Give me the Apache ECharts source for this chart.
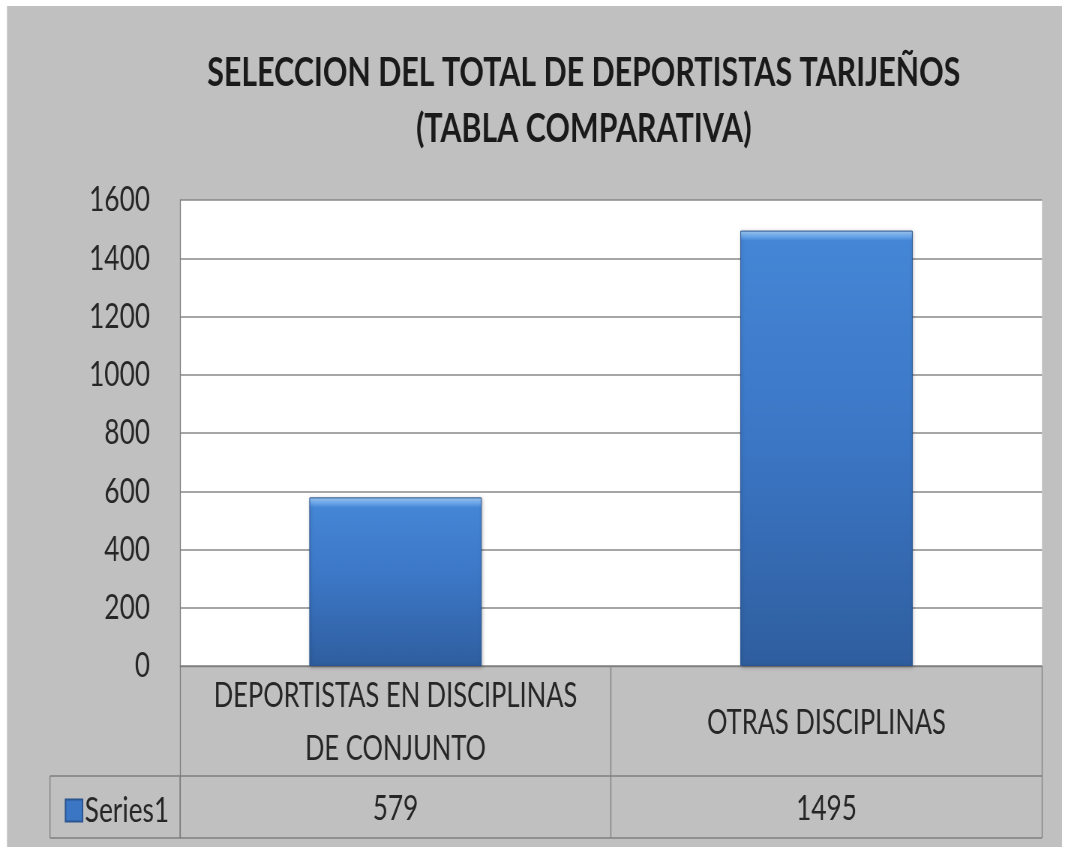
<!DOCTYPE html>
<html>
<head>
<meta charset="utf-8">
<script src="https://cdn.jsdelivr.net/npm/echarts@6/dist/echarts.min.js"></script>
<style>
  html, body { margin: 0; padding: 0; background: #ffffff; overflow: hidden; }
  /* the chart is laid out wide and squeezed horizontally to get narrow lettering */
  #chart { width: 1427px; height: 854px; transform: scaleX(0.75); transform-origin: 0 0; }
</style>
</head>
<body>
<div id="chart"></div>
<script>
// Chart data
const titleText = 'SELECCION DEL TOTAL DE DEPORTISTAS TARIJEÑOS\n(TABLA COMPARATIVA)';
const categories = ['DEPORTISTAS EN DISCIPLINAS\nDE CONJUNTO', 'OTRAS DISCIPLINAS'];
const seriesName = 'Series1';
const values = [579, 1495];
const yTicks = [0, 200, 400, 600, 800, 1000, 1200, 1400, 1600];

const FONT = 'Lato, "Open Sans", "Liberation Sans", sans-serif';
const TEXT = '#262626';
const LINE = '#7f7f7f';

// Layout in the (unsqueezed) chart coordinate space
const SX = 0.75;
const px = (x) => x / SX;
const W = 1427, H = 854;
const G = { left: px(180), right: W - px(1042), top: 200, bottom: H - 666 };
const plotBottom = H - G.bottom;
const plotRight = W - G.right;
const plotHeight = plotBottom - G.top;
const rowLine = 776;
const tableBottom = 838;
const tableLeft = px(50);
const yMax = yTicks[yTicks.length - 1];

// vertical gradient with a light bevel band of fixed pixel depth at the top of each bar
function barFill(v) {
  const h = Math.max(1, v / yMax * plotHeight);
  const band = Math.min(0.5, 10 / h);
  return new echarts.graphic.LinearGradient(0, 0, 0, 1, [
    { offset: 0, color: '#a4d0f7' },
    { offset: band * 0.5, color: '#72aced' },
    { offset: band, color: '#4586d6' },
    { offset: 0.5, color: '#3b76c4' },
    { offset: 1, color: '#2f5e9f' }
  ]);
}

const chart = echarts.init(document.getElementById('chart'), null, { renderer: 'canvas', width: W, height: H });

const option = {
  backgroundColor: '#ffffff',
  animation: false,
  title: {
    text: titleText,
    left: px(580),
    top: 40,
    textAlign: 'center',
    textStyle: {
      fontFamily: FONT,
      fontWeight: 'bold',
      fontSize: 40.5,
      lineHeight: 56,
      color: '#1a1a1a'
    }
  },
  legend: {
    data: [seriesName],
    left: px(61),
    top: 788,
    icon: 'rect',
    itemWidth: px(17),
    itemHeight: 22,
    itemGap: 6,
    textStyle: { fontFamily: FONT, fontSize: 35, color: TEXT, padding: [0, 0, 0, -2] }
  },
  grid: {
    left: G.left, right: G.right, top: G.top, bottom: G.bottom,
    show: true,
    backgroundColor: '#ffffff',
    borderWidth: 0
  },
  xAxis: [
    {
      type: 'category',
      data: categories,
      position: 'bottom',
      axisLine: { show: true, lineStyle: { color: LINE, width: 1.3 } },
      axisTick: {
        show: true,
        length: tableBottom - plotBottom,
        lineStyle: { color: LINE, width: 1.3 }
      },
      axisLabel: {
        interval: 0,
        margin: 57,
        verticalAlign: 'middle',
        align: 'center',
        fontFamily: FONT,
        fontSize: 34,
        lineHeight: 53,
        color: TEXT
      }
    },
    {
      type: 'category',
      data: values.map(String),
      position: 'bottom',
      offset: rowLine - plotBottom,
      axisLine: { show: false },
      axisTick: { show: false },
      axisLabel: {
        interval: 0,
        margin: 33,
        verticalAlign: 'middle',
        fontFamily: FONT,
        fontSize: 35,
        color: TEXT
      }
    }
  ],
  yAxis: {
    type: 'value',
    min: yTicks[0],
    max: yMax,
    interval: 200,
    axisLine: { show: true, lineStyle: { color: LINE, width: 1.3 } },
    axisTick: { show: false },
    axisLabel: {
      margin: px(30),
      formatter: (v) => String(v),
      fontFamily: FONT,
      fontSize: 35,
      color: TEXT
    },
    splitLine: { show: true, lineStyle: { color: '#888888', width: 1.6 } }
  },
  series: [
    {
      name: seriesName,
      type: 'bar',
      xAxisIndex: 0,
      data: values.map((v) => ({ value: v, itemStyle: { color: barFill(v) } })),
      barWidth: '40%',
      itemStyle: {
        color: '#3b76c4',
        borderColor: '#2b558f',
        borderWidth: 1,
        shadowColor: 'rgba(0,0,0,0.25)',
        shadowBlur: 4,
        shadowOffsetX: 1,
        shadowOffsetY: 1
      }
    }
  ],
  graphic: [
    {
      type: 'rect',
      z: -100,
      silent: true,
      shape: { x: px(7), y: 6, width: px(1055), height: 841 },
      style: { fill: '#c0c0c0' }
    },
    {
      type: 'group',
      silent: true,
      children: [
        { type: 'line', shape: { x1: tableLeft, y1: rowLine, x2: plotRight, y2: rowLine }, style: { stroke: LINE, lineWidth: 1.3 } },
        { type: 'line', shape: { x1: tableLeft, y1: tableBottom, x2: plotRight, y2: tableBottom }, style: { stroke: LINE, lineWidth: 1.3 } },
        { type: 'line', shape: { x1: tableLeft, y1: rowLine, x2: tableLeft, y2: tableBottom }, style: { stroke: LINE, lineWidth: 1.3 } },
        { type: 'line', shape: { x1: G.left, y1: rowLine, x2: G.left, y2: tableBottom }, style: { stroke: LINE, lineWidth: 1.3 } }
      ]
    }
  ]
};

chart.setOption(option);
</script>
</body>
</html>
